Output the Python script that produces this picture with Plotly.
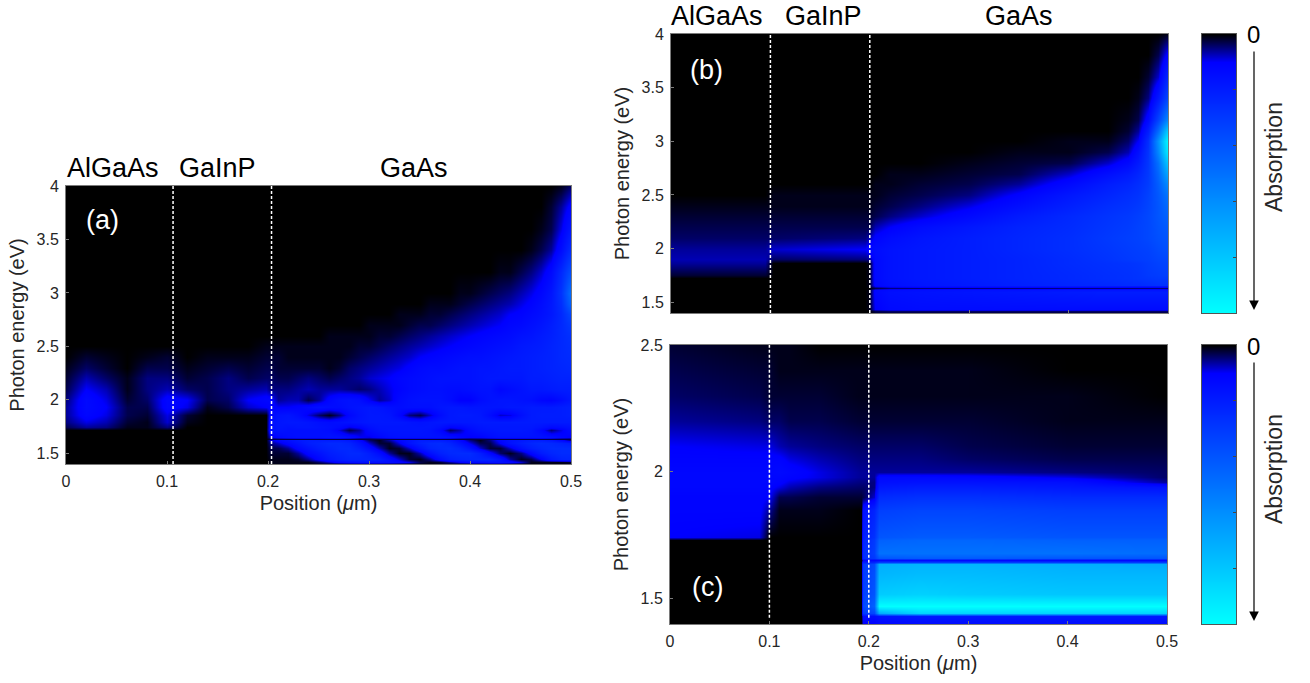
import plotly.graph_objects as go

W, H = 1310, 683

colorscale_stops = [[0, "#000000"], [0.1, "#0000ff"], [1, "#00ffff"]]
x_ticks = [0, 0.1, 0.2, 0.3, 0.4, 0.5]
x_tick_labels = ["0", "0.1", "0.2", "0.3", "0.4", "0.5"]
y_ticks_ab = [1.5, 2, 2.5, 3, 3.5, 4]
y_tick_labels_ab = ["1.5", "2", "2.5", "3", "3.5", "4"]
y_ticks_c = [1.5, 2, 2.5]
y_tick_labels_c = ["1.5", "2", "2.5"]

# ---------- Panel (a) ----------
xa_left = [0, .02, .04, .06, .08, .1, .12, .14, .16, .18, .198]
xa_right = [.202, .21, .22, .23, .24, .25, .26, .27, .28, .29, .3, .31, .32, .33, .34, .35,
            .36, .37, .38, .39, .4, .41, .42, .43, .44, .45, .46, .47, .48, .49, .5]
ya = [1.4, 1.42, 1.45, 1.5, 1.55, 1.6, 1.62, 1.638, 1.656, 1.72, 1.75, 1.79, 1.86, 1.93, 2.0,
      2.1, 2.2, 2.3, 2.4, 2.5, 2.6, 2.7, 2.8, 2.9, 3.0, 3.2, 3.4, 3.6, 3.8, 4.0]
za_left_low = [
    [0, 0, 0, 0, 0, 0, 0, 0, 0, 0, 0],
    [0, 0, 0, 0, 0, 0, 0, 0, 0, 0, 0],
    [0, 0, 0, 0, 0, 0, 0, 0, 0, 0, 0],
    [0, 0, 0, 0, 0, 0, 0, 0, 0, 0, 0],
    [0, 0, 0, 0, 0, 0, 0, 0, 0, 0, 0],
    [0, 0, 0, 0, 0, 0, 0, 0, 0, 0, 0],
    [0, 0, 0, 0, 0, 0, 0, 0, 0, 0, 0],
    [0, 0, 0, 0, 0, 0, 0, 0, 0, 0, 0],
    [0, 0, 0, 0, 0, 0, 0, 0, 0, 0, 0],
    [0, 0, 0, 0, 0, 0, 0, 0, 0, 0, 0],
    [3, 6, 5, 1, 1, 5, 0, 0, 0, 0, 0],
    [5, 9, 7, 2, 1, 8, 1, 0, 0, 0, 0],
    [6, 12, 9, 3, 2, 9, 2, 0, 0, 0, 0],
    [6, 13, 10, 3, 3, 12, 9, 1, 3, 8, 10],
    [5, 13, 9, 2, 4, 12, 10, 3, 4, 10, 12],
    [3, 10, 7, 1, 5, 7, 4, 3, 5, 6, 7],
    [2, 7, 4, 1, 5, 5, 2, 3, 5, 3, 4],
    [1, 4, 2, 0, 3, 3, 1, 2, 3, 2, 3],
    [0, 2, 1, 0, 1, 2, 0, 1, 1, 1, 2],
    [0, 0, 0, 0, 0, 0, 0, 0, 0, 0, 1],
]
za_left_high = [
    [0, 0, 0, 0, 0, 0, 0, 0, 0, 0, 0],
    [0, 0, 0, 0, 0, 0, 0, 0, 0, 0, 0],
    [0, 0, 0, 0, 0, 0, 0, 0, 0, 0, 0],
    [0, 0, 0, 0, 0, 0, 0, 0, 0, 0, 0],
    [0, 0, 0, 0, 0, 0, 0, 0, 0, 0, 0],
    [0, 0, 0, 0, 0, 0, 0, 0, 0, 0, 0],
    [0, 0, 0, 0, 0, 0, 0, 0, 0, 0, 0],
    [0, 0, 0, 0, 0, 0, 0, 0, 0, 0, 0],
    [0, 0, 0, 0, 0, 0, 0, 0, 0, 0, 0],
    [0, 0, 0, 0, 0, 0, 0, 0, 0, 0, 0],
]
za_right = [
    [1, 1, 1, 1, 1, 1, 1, 1, 1, 1, 1, 1, 1, 1, 1, 1, 1, 1, 1, 1, 1, 1, 1, 1, 1, 1, 1, 1, 1, 1, 1],
    [1, 1, 1, 1, 1, 4, 8, 12, 14, 15, 15, 15, 14, 12, 9, 3, 1, 2, 6, 10, 13, 14, 15, 15, 13, 8, 1, 1, 1, 1, 2],
    [1, 1, 1, 2, 6, 12, 17, 20, 22, 22, 22, 20, 14, 8, 2, 1, 6, 14, 20, 22, 23, 23, 22, 16, 6, 1, 3, 10, 18, 22, 23],
    [2, 2, 2, 6, 12, 16, 20, 22, 24, 24, 20, 14, 6, 1, 1, 7, 15, 21, 24, 25, 25, 20, 12, 4, 1, 5, 12, 19, 23, 25, 25],
    [3, 3, 6, 12, 16, 20, 22, 24, 24, 20, 14, 7, 1, 2, 8, 16, 22, 24, 25, 22, 16, 8, 2, 2, 8, 15, 20, 23, 25, 25, 25],
    [5, 8, 12, 16, 20, 22, 24, 24, 22, 16, 8, 2, 2, 9, 16, 21, 24, 25, 22, 16, 9, 3, 3, 10, 16, 20, 23, 25, 24, 22, 20],
    [8, 12, 15, 18, 20, 20, 20, 20, 18, 12, 4, 1, 6, 12, 16, 20, 20, 20, 18, 12, 5, 1, 5, 12, 16, 18, 20, 20, 18, 12, 5],
    [3, 3, 3, 3, 3, 3, 3, 3, 3, 3, 3, 3, 3, 3, 3, 3, 3, 3, 3, 3, 3, 3, 3, 3, 3, 3, 3, 3, 3, 3, 3],
    [8, 12, 14, 15, 15, 15, 16, 16, 14, 10, 9, 12, 15, 16, 16, 16, 16, 16, 15, 12, 10, 11, 14, 16, 16, 16, 16, 16, 15, 12, 10],
    [15, 16, 15, 15, 15, 15, 14, 9, 3, 6, 13, 16, 17, 17, 17, 17, 16, 12, 4, 7, 13, 16, 17, 18, 18, 18, 17, 12, 5, 9, 14],
    [14, 17, 16, 17, 17, 16, 15, 13, 9, 11, 15, 17, 17, 17, 17, 17, 17, 15, 11, 12, 15, 17, 18, 18, 18, 18, 18, 16, 13, 14, 16],
    [14, 17, 18, 18, 17, 15, 14, 15, 16, 17, 18, 18, 18, 18, 17, 16, 17, 18, 18, 18, 18, 19, 19, 19, 19, 19, 19, 19, 19, 19, 19],
    [12, 16, 17, 14, 9, 4, 1, 5, 12, 16, 18, 18, 17, 12, 5, 3, 8, 14, 18, 19, 19, 18, 14, 8, 9, 15, 19, 20, 20, 20, 21],
    [11, 10, 10, 11, 13, 15, 14, 14, 16, 17, 18, 17, 15, 14, 15, 15, 15, 17, 18, 18, 17, 17, 17, 17, 18, 18, 19, 19, 19, 20, 21],
    [12, 6, 7, 7, 3, 6, 12, 15, 16, 15, 10, 6, 8, 13, 15, 16, 16, 16, 14, 10, 10, 14, 16, 17, 17, 16, 15, 12, 11, 14, 18],
    [5, 5, 5, 6, 7, 6, 6, 6, 5, 4, 5, 7, 9, 11, 13, 14, 15, 15, 14, 14, 15, 16, 16, 12, 14, 16, 18, 18, 19, 20, 20],
    [4, 3, 3, 4, 5, 4, 3, 4, 5, 6, 8, 9, 10, 12, 13, 14, 15, 16, 16, 16, 16, 17, 18, 18, 18, 18, 20, 20, 21, 22, 22],
    [3, 2, 2, 2, 2, 2, 1, 2, 4, 5, 6, 7, 8, 9, 11, 13, 14, 14, 15, 16, 16, 17, 17, 18, 19, 19, 20, 21, 22, 23, 24],
    [2, 2, 1, 1, 1, 1, 1, 1, 2, 3, 4, 5, 6, 7, 8, 10, 11, 12, 13, 14, 15, 15, 16, 17, 18, 19, 20, 21, 22, 24, 25],
    [1, 1, 1, 1, 1, 1, 1, 1, 1, 2, 2, 3, 4, 5, 6, 7, 8, 9, 10, 11, 12, 13, 14, 15, 16, 18, 19, 20, 22, 24, 26],
    [0, 0, 0, 0, 0, 0, 1, 1, 1, 1, 1, 2, 2, 3, 4, 5, 6, 7, 8, 9, 10, 11, 12, 13, 14, 16, 17, 19, 21, 24, 27],
    [0, 0, 0, 0, 0, 0, 0, 0, 0, 0, 1, 1, 1, 1, 2, 3, 3, 4, 5, 6, 7, 8, 9, 10, 12, 13, 15, 17, 20, 24, 30],
    [0, 0, 0, 0, 0, 0, 0, 0, 0, 0, 0, 0, 0, 1, 1, 1, 2, 2, 3, 4, 5, 6, 7, 8, 10, 11, 13, 15, 18, 24, 35],
    [0, 0, 0, 0, 0, 0, 0, 0, 0, 0, 0, 0, 0, 0, 0, 0, 1, 1, 1, 2, 3, 4, 5, 6, 7, 9, 11, 14, 18, 26, 45],
    [0, 0, 0, 0, 0, 0, 0, 0, 0, 0, 0, 0, 0, 0, 0, 0, 0, 0, 0, 1, 1, 2, 3, 4, 5, 7, 9, 12, 17, 28, 50],
    [0, 0, 0, 0, 0, 0, 0, 0, 0, 0, 0, 0, 0, 0, 0, 0, 0, 0, 0, 0, 0, 0, 0, 1, 1, 3, 5, 8, 13, 24, 38],
    [0, 0, 0, 0, 0, 0, 0, 0, 0, 0, 0, 0, 0, 0, 0, 0, 0, 0, 0, 0, 0, 0, 0, 0, 0, 0, 1, 3, 6, 14, 26],
    [0, 0, 0, 0, 0, 0, 0, 0, 0, 0, 0, 0, 0, 0, 0, 0, 0, 0, 0, 0, 0, 0, 0, 0, 0, 0, 0, 1, 3, 9, 18],
    [0, 0, 0, 0, 0, 0, 0, 0, 0, 0, 0, 0, 0, 0, 0, 0, 0, 0, 0, 0, 0, 0, 0, 0, 0, 0, 0, 0, 2, 6, 12],
    [0, 0, 0, 0, 0, 0, 0, 0, 0, 0, 0, 0, 0, 0, 0, 0, 0, 0, 0, 0, 0, 0, 0, 0, 0, 0, 0, 0, 0, 1, 4],
]

# ---------- Panel (b) ----------
xb = [0, .095, .103, .195, .199, .205, .22, .25, .3, .35, .4, .44, .46, .47, .48, .49, .5]
yb = [1.4, 1.42, 1.44, 1.6, 1.617, 1.633, 1.649, 1.665, 1.73, 1.75, 1.87, 1.9, 2, 2.1, 2.2, 2.3, 2.4,
      2.5, 2.6, 2.7, 2.8, 2.9, 3, 3.1, 3.2, 3.4, 3.6, 3.8, 4]
zb = [
    [0, 0, 0, 0, 0, 2, 2, 2, 2, 2, 2, 2, 2, 2, 2, 2, 2],
    [0, 0, 0, 0, 0, 3, 4, 4, 4, 4, 4, 4, 4, 4, 4, 4, 4],
    [0, 0, 0, 0, 1, 10, 13, 14, 14, 14, 14, 14, 14, 14, 14, 14, 14],
    [0, 0, 0, 0, 1, 12, 15, 16, 17, 18, 19, 20, 20, 20, 20, 20, 20],
    [0, 0, 0, 0, 1, 12, 14, 15, 16, 16, 17, 17, 17, 17, 17, 17, 17],
    [0, 0, 0, 0, 0, 3, 5, 5, 5, 5, 5, 5, 5, 5, 5, 5, 5],
    [0, 0, 0, 0, 1, 10, 13, 15, 16, 17, 18, 18, 18, 18, 18, 18, 18],
    [0, 0, 0, 0, 1, 12, 15, 17, 19, 21, 23, 24, 25, 25, 26, 27, 27],
    [0, 0, 0, 0, 1, 13, 16, 18, 20, 22, 24, 26, 27, 28, 29, 30, 30],
    [2, 2, 0, 0, 1, 13, 16, 18, 20, 22, 24, 26, 27, 28, 30, 31, 32],
    [6, 6, 0, 0, 1, 13, 16, 18, 20, 22, 25, 27, 28, 29, 31, 33, 34],
    [7, 7, 4, 5, 6, 13, 16, 18, 20, 22, 25, 28, 30, 31, 32, 34, 35],
    [6, 6, 8, 10, 12, 14, 16, 18, 20, 23, 26, 29, 31, 32, 33, 36, 38],
    [4, 4, 4, 5, 7, 11, 14, 17, 20, 23, 26, 30, 32, 33, 35, 38, 40],
    [3, 3, 3, 3, 3, 7, 10, 14, 18, 22, 25, 29, 31, 33, 35, 39, 42],
    [2, 2, 2, 2, 2, 3, 5, 8, 13, 19, 24, 28, 30, 32, 35, 40, 45],
    [1, 1, 1, 1, 1, 2, 3, 5, 9, 15, 21, 26, 28, 30, 34, 40, 48],
    [0, 0, 1, 1, 1, 1, 2, 3, 5, 11, 18, 23, 26, 28, 33, 41, 52],
    [0, 0, 0, 0, 0, 1, 1, 2, 3, 6, 13, 20, 23, 26, 31, 43, 60],
    [0, 0, 0, 0, 0, 0, 1, 1, 2, 3, 8, 15, 19, 23, 30, 46, 70],
    [0, 0, 0, 0, 0, 0, 0, 0, 1, 2, 3, 8, 13, 19, 29, 50, 82],
    [0, 0, 0, 0, 0, 0, 0, 0, 0, 1, 1, 3, 7, 15, 28, 58, 95],
    [0, 0, 0, 0, 0, 0, 0, 0, 0, 0, 1, 1, 4, 10, 26, 62, 100],
    [0, 0, 0, 0, 0, 0, 0, 0, 0, 0, 0, 0, 2, 6, 20, 48, 85],
    [0, 0, 0, 0, 0, 0, 0, 0, 0, 0, 0, 0, 1, 3, 13, 34, 60],
    [0, 0, 0, 0, 0, 0, 0, 0, 0, 0, 0, 0, 0, 1, 5, 18, 36],
    [0, 0, 0, 0, 0, 0, 0, 0, 0, 0, 0, 0, 0, 0, 2, 8, 24],
    [0, 0, 0, 0, 0, 0, 0, 0, 0, 0, 0, 0, 0, 0, 0, 3, 12],
    [0, 0, 0, 0, 0, 0, 0, 0, 0, 0, 0, 0, 0, 0, 0, 0, 1],
]

# ---------- Panel (c) ----------
xc = [0, .09, .1, .11, .12, .15, .19, .192, .194, .205, .21, .25, .3, .4, .5]
yc = [1.4, 1.43, 1.445, 1.47, 1.52, 1.6, 1.635, 1.645, 1.652, 1.66, 1.68, 1.73, 1.745, 1.85, 1.9, 1.94,
      1.96, 1.98, 2, 2.05, 2.1, 2.2, 2.3, 2.4, 2.5]
zc = [
    [0, 0, 0, 0, 0, 0, 0, 0, 10, 10, 12, 14, 14, 14, 14],
    [0, 0, 0, 0, 0, 0, 0, 0, 14, 14, 16, 18, 18, 18, 18],
    [0, 0, 0, 0, 0, 0, 0, 0, 30, 35, 70, 85, 85, 85, 85],
    [0, 0, 0, 0, 0, 0, 0, 0, 35, 45, 100, 100, 100, 100, 100],
    [0, 0, 0, 0, 0, 0, 0, 0, 32, 40, 82, 84, 82, 80, 80],
    [0, 0, 0, 0, 0, 0, 0, 0, 30, 38, 74, 76, 76, 74, 74],
    [0, 0, 0, 0, 0, 0, 0, 0, 30, 36, 72, 74, 74, 72, 70],
    [0, 0, 0, 0, 0, 0, 0, 0, 20, 22, 30, 30, 30, 30, 30],
    [0, 0, 0, 0, 0, 0, 0, 0, 12, 12, 13, 13, 13, 13, 13],
    [0, 0, 0, 0, 0, 0, 0, 0, 25, 30, 40, 42, 42, 40, 40],
    [0, 0, 0, 0, 0, 0, 0, 0, 25, 32, 50, 50, 50, 50, 48],
    [0, 0, 0, 0, 0, 0, 0, 0, 22, 30, 44, 46, 46, 44, 44],
    [10, 9, 0, 0, 0, 0, 0, 0, 20, 27, 40, 42, 42, 40, 40],
    [11, 11, 6, 1, 1, 1, 0, 0, 15, 22, 32, 34, 34, 32, 32],
    [11, 11, 10, 3, 3, 2, 2, 2, 3, 8, 25, 27, 27, 25, 25],
    [12, 12, 11, 9, 7, 5, 4, 4, 4, 5, 18, 20, 20, 18, 16],
    [12, 12, 12, 11, 9, 7, 5, 5, 5, 5, 15, 16, 16, 15, 6],
    [12, 12, 12, 12, 11, 9, 6, 6, 6, 6, 13, 13, 12, 9, 4],
    [12, 12, 12, 13, 12, 9, 6, 6, 6, 6, 6, 6, 6, 5, 4],
    [11, 11, 11, 11, 9, 7, 5, 5, 5, 5, 5, 5, 4, 3, 3],
    [10, 9, 9, 7, 6, 5, 4, 4, 4, 4, 4, 4, 3, 2, 2],
    [6, 5, 4, 4, 3, 3, 2, 2, 2, 2, 2, 2, 2, 1, 1],
    [4, 3, 2, 2, 2, 2, 1, 1, 1, 1, 1, 1, 1, 1, 0],
    [3, 2, 2, 1, 1, 1, 1, 1, 1, 1, 1, 1, 1, 0, 0],
    [2, 1, 1, 1, 1, 0, 0, 0, 0, 0, 0, 0, 0, 0, 0],
]

# ---------- Colour bar ----------
bar_levels = [0, 5, 10, 15, 20, 30, 40, 50, 60, 70, 80, 90, 100]
bar_ticks = [20, 40, 60, 80]
bar_x = [0, 1]

FONT = "Liberation Sans"
TEXT = "#262626"
AXIS = "#7a7a7a"


def px_x(p):
    return p / W


def px_y(p):
    return 1 - p / H


fig = go.Figure()
za = [l + r for l, r in zip(za_left_low + za_left_high, za_right)]


def hm(x, y, z, i):
    fig.add_trace(go.Heatmap(x=x, y=y, z=z, zmin=0, zmax=100, zsmooth="best",
                             colorscale=colorscale_stops, showscale=False,
                             xaxis=f"x{i}" if i > 1 else "x",
                             yaxis=f"y{i}" if i > 1 else "y", hoverinfo="skip"))


hm(xa_left + xa_right, ya, za, 1)
hm(xb, yb, zb, 2)
hm(xc, yc, zc, 3)
for i in (4, 5):
    hm(bar_x, bar_levels, [[v, v] for v in bar_levels], i)

panels = {
    "": (66, 571, 186, 464, [1.4, 4], y_ticks_ab, y_tick_labels_ab, True),
    "2": (671, 1168, 34, 313, [1.4, 4], y_ticks_ab, y_tick_labels_ab, False),
    "3": (670, 1167, 345, 624, [1.4, 2.5], y_ticks_c, y_tick_labels_c, True),
}
layout = dict(
    width=W, height=H, margin=dict(l=0, r=0, t=0, b=0, autoexpand=False), paper_bgcolor="white", plot_bgcolor="black",
    font=dict(family=FONT, color=TEXT, size=16), showlegend=False,
)
for k, (x0, x1, y0, y1, rng, yt, ytl, show_x) in panels.items():
    layout["xaxis" + k] = dict(
        domain=[px_x(x0), px_x(x1)], range=[0, 0.5], anchor="y" + k, tickvals=x_ticks, ticktext=x_tick_labels,
        ticks="inside", ticklen=3, tickcolor=AXIS, showline=True, linecolor=AXIS, linewidth=1, mirror=True,
        showgrid=False, zeroline=False, showticklabels=True, tickfont=dict(size=16), ticklabelstandoff=3,
        title=dict(text="Position (<i>μ</i>m)" if show_x else "", font=dict(size=20), standoff=6))
    if not show_x:
        layout["xaxis" + k]["showticklabels"] = False
    layout["yaxis" + k] = dict(
        domain=[px_y(y1), px_y(y0)], range=rng, anchor="x" + k, tickvals=yt, ticktext=ytl,
        ticks="inside", ticklen=3, tickcolor=AXIS, showline=True, linecolor=AXIS, linewidth=1, mirror=True,
        showgrid=False, zeroline=False, tickfont=dict(size=16), ticklabelstandoff=3,
        title=dict(text="Photon energy (eV)", font=dict(size=20), standoff=6))

for k, (y0, y1) in {"4": (34, 313), "5": (345, 624)}.items():
    layout["xaxis" + k] = dict(domain=[px_x(1202), px_x(1236)], range=[0, 1], anchor="y" + k,
                               showticklabels=False, ticks="", showline=True, linecolor="#555555", mirror=True,
                               showgrid=False, zeroline=False)
    layout["yaxis" + k] = dict(domain=[px_y(y1), px_y(y0)], range=[100, 0], anchor="x" + k, side="right",
                               tickvals=bar_ticks, ticktext=["", "", "", ""], ticks="inside", ticklen=3,
                               tickcolor="#444444", showline=True, linecolor="#555555", mirror=True,
                               showgrid=False, zeroline=False)

# Dashed layer boundaries
shapes = []
boundaries = [("x", "y", [0.106, 0.2035], 1.4, 4), ("x2", "y2", [0.1, 0.2], 1.4, 4), ("x3", "y3", [0.1, 0.2], 1.425, 2.5)]
for xr, yr, xs, lo, hi in boundaries:
    for bx in xs:
        shapes.append(dict(type="line", xref=xr, yref=yr, x0=bx, x1=bx, y0=lo, y1=hi,
                           line=dict(color="white", width=1.5, dash="3px,2px"), layer="above"))
layout["shapes"] = shapes

ann = []


def label(text, px, py, size, color="black", angle=0):
    ann.append(dict(text=text, x=px_x(px), y=px_y(py), xref="paper", yref="paper", showarrow=False,
                    xanchor="center", yanchor="middle", textangle=angle,
                    font=dict(size=size, color=color, family=FONT)))


label("AlGaAs", 113, 168, 27)
label("GaInP", 218, 168, 27)
label("GaAs", 414, 168, 27)
label("AlGaAs", 717, 16, 27)
label("GaInP", 823, 16, 27)
label("GaAs", 1019, 16, 27)
label("(a)", 102, 220, 27, "white")
label("(b)", 706, 70, 27, "white")
label("(c)", 708, 587, 27, "white")
for py0, py_arrow0, py_arrow1, py_text in [(35, 50, 310, 157), (346, 361, 621, 469)]:
    label("0", 1253, py0, 24)
    label("Absorption", 1274, py_text, 23, TEXT, -90)
    ann.append(dict(text="", x=px_x(1254), y=px_y(py_arrow1), ax=0, ay=py_arrow0 - py_arrow1,
                    xref="paper", yref="paper", axref="pixel", ayref="pixel", showarrow=True,
                    arrowhead=2, arrowsize=1.6, arrowwidth=1.2, arrowcolor="black"))
layout["annotations"] = ann

fig.update_layout(**layout)
fig.write_html("out.html", config=dict(displayModeBar=False),
               post_script="document.body.style.margin='0';")
